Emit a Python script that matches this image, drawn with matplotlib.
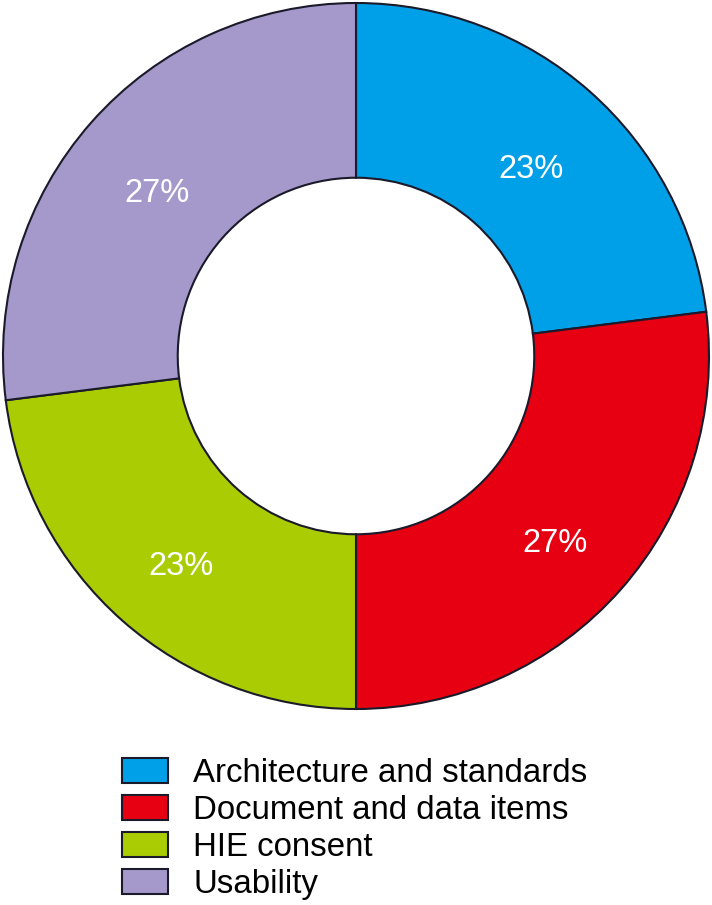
import matplotlib
matplotlib.use("Agg")
import matplotlib.pyplot as plt

# data
categories = ["Architecture and standards", "Document and data items",
              "HIE consent", "Usability"]
shares = [23, 27, 23, 27]
colors = ["#00A0E9", "#E60012", "#AACC03", "#A599CB"]

plt.rcParams['font.family'] = ['Liberation Sans', 'DejaVu Sans']

fig = plt.figure(figsize=(7.12, 9.05), dpi=100)
W, H = 712, 905
# pie area: centre ~ (356, 356) px, outer radius ~ 353 px
ax = fig.add_axes([3 / W, (H - 709) / H, 706 / W, 706 / H])

wedges, texts, autotexts = ax.pie(
    shares, colors=colors, startangle=90, counterclock=False,
    radius=1.0, autopct='%d%%', pctdistance=0.75,
    wedgeprops=dict(width=0.495, edgecolor='#1a1a2a', linewidth=1.5),
    textprops=dict(color='white', fontsize=23.5))
# labels sit a little lower in the original
for t in autotexts:
    x, y = t.get_position()
    t.set_position((x, y - 0.035))
ax.set_xlim(-1.0, 1.0)
ax.set_ylim(-1.0, 1.0)
ax.set_aspect('equal')
ax.axis('off')

fig.legend(wedges, categories, loc='upper left',
           bbox_to_anchor=(122 / W, 1 - 758 / H), frameon=False,
           fontsize=23.8, handlelength=1.39, handleheight=0.76,
           handletextpad=0.76, labelspacing=0.18, borderpad=0,
           borderaxespad=0)

fig.savefig("out.png", dpi=100)
